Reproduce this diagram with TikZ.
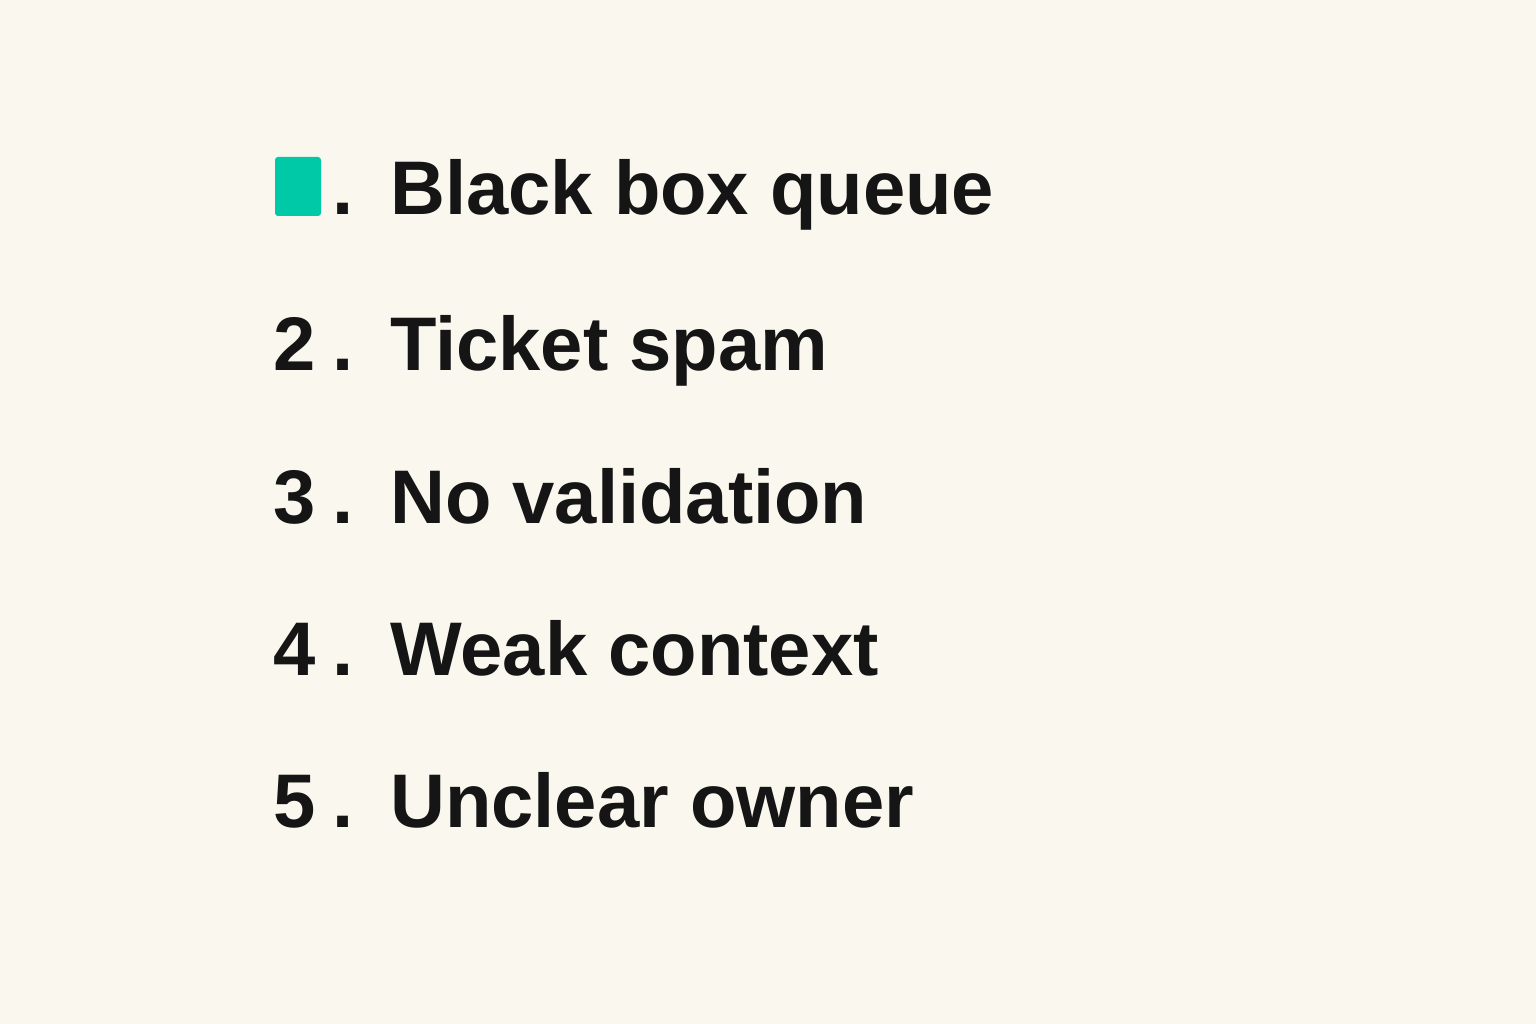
\documentclass[tikz,border=0pt]{standalone}
\usepackage{fontspec}
\setmainfont{Liberation Sans}
\definecolor{bg}{HTML}{FAF7EE}
\definecolor{teal}{HTML}{00C9A7}
\definecolor{ink}{HTML}{151515}
\begin{document}
\begin{tikzpicture}[x=1pt,y=1pt,
  num/.style={anchor=base west,inner sep=0pt,font=\fontsize{76}{80}\selectfont\bfseries,text=ink},
  item/.style={anchor=base west,inner sep=0pt,font=\fontsize{76}{80}\selectfont\bfseries,text=ink}]
\fill[bg] (0,0) rectangle (1536,-1024);
\useasboundingbox (0,0) rectangle (1536,-1024);
\fill[teal,rounded corners=3pt] (275,-157) rectangle (321,-216);
\node[num] (d1) at (332,-215) {.};
\node[item] (t1) at (390,-215) {Black box queue};
\foreach \n/\y/\t in {2/370/Ticket spam,3/523/No validation,4/675/Weak context,5/827/Unclear owner}{
  \node[num] (n\n) at (273,-\y) {\n};
  \node[num] (d\n) at (332,-\y) {.};
  \node[item] (t\n) at (390,-\y) {\t};
}
\end{tikzpicture}
\end{document}
